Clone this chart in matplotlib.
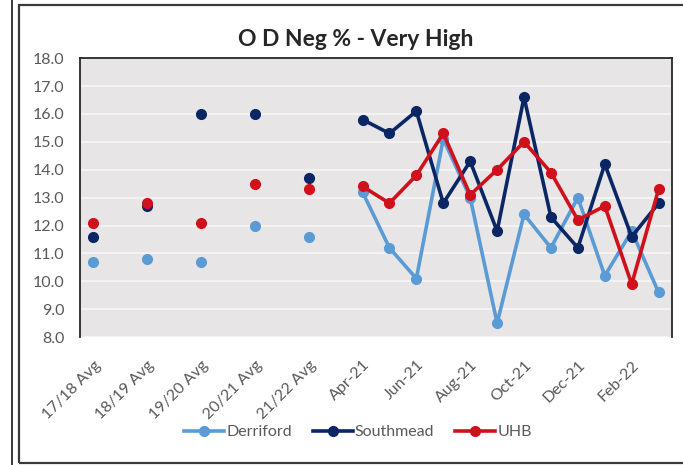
import numpy as np
import matplotlib.pyplot as plt
from matplotlib.patches import Rectangle
from matplotlib.lines import Line2D

plt.rcParams['font.family'] = ['Lato', 'DejaVu Sans']

# Categories: yearly averages separated by empty slots, then monthly values
categories = ['17/18 Avg', '', '18/19 Avg', '', '19/20 Avg', '', '20/21 Avg', '', '21/22 Avg', '',
              'Apr-21', 'May-21', 'Jun-21', 'Jul-21', 'Aug-21', 'Sep-21',
              'Oct-21', 'Nov-21', 'Dec-21', 'Jan-22', 'Feb-22', 'Mar-22']
nan = np.nan
derriford = [10.7, nan, 10.8, nan, 10.7, nan, 12.0, nan, 11.6, nan,
             13.2, 11.2, 10.1, 15.1, 13.0, 8.5, 12.4, 11.2, 13.0, 10.2, 11.8, 9.6]
southmead = [11.6, nan, 12.7, nan, 16.0, nan, 16.0, nan, 13.7, nan,
             15.8, 15.3, 16.1, 12.8, 14.3, 11.8, 16.6, 12.3, 11.2, 14.2, 11.6, 12.8]
uhb = [12.1, nan, 12.8, nan, 12.1, nan, 13.5, nan, 13.3, nan,
       13.4, 12.8, 13.8, 15.3, 13.1, 14.0, 15.0, 13.9, 12.2, 12.7, 9.9, 13.3]

series = [('Derriford', derriford, '#5b9bd5'),
          ('Southmead', southmead, '#0b2665'),
          ('UHB', uhb, '#d0111b')]

fig = plt.figure(figsize=(6.83, 4.65), dpi=100)
ax = fig.add_axes([0.117, 0.275, 0.867, 0.6])

# outer chart frame and the neighbouring panel edge
fig.patches.append(Rectangle((19 / 683, 2 / 465), 1.0, 458 / 465, transform=fig.transFigure,
                             fill=False, edgecolor='#3a3a3a', linewidth=1.6))
fig.lines.append(Line2D([12 / 683, 12 / 683], [0, 1], transform=fig.transFigure,
                        color='#3a3a3a', linewidth=1.4))

x = np.arange(len(categories))
for name, vals, col in series:
    ax.plot(x, vals, color=col, linewidth=2.6, marker='o', markersize=7,
            label=name, solid_joinstyle='round')

ax.set_facecolor('#e7e5e5')
ax.set_xlim(-0.5, len(categories) - 0.5)
ax.set_ylim(8, 18)
ax.set_yticks(np.arange(8, 18.1, 1))
ax.set_yticklabels([f'{v:.1f}' for v in np.arange(8, 18.1, 1)])
ax.grid(axis='y', color='#f6f6f6', linewidth=1.2)
ax.set_axisbelow(True)

ax.set_xticks(x[::2])
ax.set_xticklabels(categories[::2], rotation=45, ha='right', rotation_mode='anchor')
ax.tick_params(axis='x', length=0, pad=15, labelsize=11.5, labelcolor='#595959')
ax.tick_params(axis='y', length=0, pad=11, labelsize=11.5, labelcolor='#595959')

for side in ['left', 'right', 'top']:
    ax.spines[side].set_color('#262626')
    ax.spines[side].set_linewidth(1.3)
ax.spines['bottom'].set_visible(False)

fig.text(356 / 683, 1 - 40 / 465, 'O D Neg % - Very High', fontsize=16.5, fontweight='bold',
         color='#262626', ha='center', va='center')

fig.legend(loc='center', bbox_to_anchor=(358 / 683, 1 - 432 / 465), ncol=3, frameon=False,
           fontsize=11.5, labelcolor='#595959', handlelength=2.5, columnspacing=1.3,
           handletextpad=0.15)

fig.savefig('out.png', dpi=100)
